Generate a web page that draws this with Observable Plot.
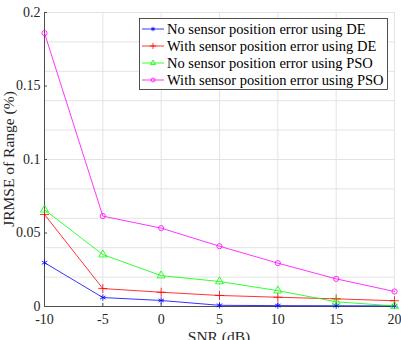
<!DOCTYPE html>
<html>
<head>
<meta charset="utf-8">
<script src="https://cdn.jsdelivr.net/npm/d3@7"></script>
<script src="https://cdn.jsdelivr.net/npm/@observablehq/plot@0.6"></script>
<style>
  html, body { margin: 0; padding: 0; background: #fff; }
  #chart { width: 401px; height: 340px; overflow: hidden; }
</style>
</head>
<body>
<div id="chart"></div>
<script>
// SNR levels (dB) and JRMSE of range (%) for each estimator
const snr = [-10, -5, 0, 5, 10, 15, 20];
const deNoError   = [0.0298, 0.0061, 0.0041, 0.0008, 0.0006, 0.0005, 0.0004];
const deWithError = [0.0626, 0.0122, 0.0097, 0.0075, 0.0063, 0.0052, 0.0039];
const psoNoError   = [0.0658, 0.0353, 0.0210, 0.0170, 0.0108, 0.0032, 0.0004];
const psoWithError = [0.1860, 0.0615, 0.0533, 0.0410, 0.0295, 0.0188, 0.0102];

const seriesNames = [
  "No sensor position error using DE",
  "With sensor position error using DE",
  "No sensor position error using PSO",
  "With sensor position error using PSO"
];
const seriesValues = [deNoError, deWithError, psoNoError, psoWithError];
const seriesColors = ["#0000ff", "#ff0000", "#00ff00", "#ff00ff"];
const seriesSymbols = ["asterisk", "plus", "triangle", "circle"];

const xTicks = [-10, -5, 0, 5, 10, 15, 20];
const xTickLabels = ["-10", "-5", "0", "5", "10", "15", "20"];
const yTicks = [0, 0.05, 0.1, 0.15, 0.2];
const yTickLabels = ["0", "0.05", "0.1", "0.15", "0.2"];
const yGrid = [0.02, 0.04, 0.06, 0.08, 0.1, 0.12, 0.14, 0.16, 0.18, 0.2];

const rows = seriesNames.flatMap((name, i) =>
  snr.map((s, j) => ({series: name, snr: s, value: seriesValues[i][j]}))
);

const font = "'Liberation Serif', 'Times New Roman', serif";
const axisColor = "#262626";

const marks = [
  Plot.gridX(xTicks.slice(1), {stroke: "#e3e3e3", strokeOpacity: 1}),
  Plot.gridY(yGrid, {stroke: "#e3e3e3", strokeOpacity: 1}),
  Plot.ruleX([-10], {stroke: "#4d4d4d"}),
  Plot.ruleY([0], {stroke: "#4d4d4d"}),
  Plot.axisX(xTicks, {tickSize: -3, text: null, stroke: "#4d4d4d", label: null}),
  Plot.axisX(xTicks, {tickSize: 0, tickPadding: 8, label: null, fontSize: 14, fill: axisColor,
    tickFormat: (d) => xTickLabels[xTicks.indexOf(d)]}),
  Plot.axisY(yTicks, {tickSize: -3, text: null, stroke: "#4d4d4d", label: null}),
  Plot.axisY(yTicks, {tickSize: 0, tickPadding: 4, label: null, fontSize: 14, fill: axisColor,
    tickFormat: (d) => yTickLabels[yTicks.indexOf(d)]})
];

seriesNames.forEach((name, i) => {
  const data = rows.filter(r => r.series === name);
  marks.push(Plot.line(data, {x: "snr", y: "value", stroke: seriesColors[i], strokeWidth: 0.8}));
  marks.push(Plot.dot(data, {x: "snr", y: "value", stroke: seriesColors[i], fill: "none",
    symbol: seriesSymbols[i], r: seriesSymbols[i] === "circle" ? 2.6 : 3, strokeWidth: 0.8}));
});

const chart = Plot.plot({
  width: 401,
  height: 340,
  marginLeft: 44,
  marginRight: 7,
  marginTop: 12,
  marginBottom: 34,
  x: {domain: [-10, 20]},
  y: {domain: [0, 0.2]},
  style: {fontFamily: font, fontSize: "14px", color: axisColor, background: "#fff"},
  marks
});

const svg = d3.select(chart);

// Axis titles
svg.append("text")
  .attr("x", 219).attr("y", 342)
  .attr("text-anchor", "middle")
  .attr("font-family", font).attr("font-size", 15.5)
  .attr("fill", axisColor)
  .text("SNR (dB)");
svg.append("text")
  .attr("transform", "translate(14,159) rotate(-90)")
  .attr("text-anchor", "middle")
  .attr("font-family", font).attr("font-size", 15.5)
  .attr("fill", axisColor)
  .text("JRMSE of Range (%)");

// Legend box
const lg = svg.append("g").attr("font-family", font).attr("font-size", 14.5).attr("text-anchor", "start");
lg.append("rect")
  .attr("x", 139.5).attr("y", 18.5).attr("width", 248).attr("height", 71)
  .attr("fill", "#fff").attr("stroke", "#262626").attr("stroke-width", 0.8);
const symbolPaths = {
  asterisk: d3.symbol(d3.symbolAsterisk, 14)(),
  plus: d3.symbol(d3.symbolPlus, 14)(),
  triangle: d3.symbol(d3.symbolTriangle, 12)(),
  circle: d3.symbol(d3.symbolCircle, 12)()
};
seriesNames.forEach((name, i) => {
  const y = 29 + i * 17;
  lg.append("line").attr("x1", 142).attr("x2", 164).attr("y1", y).attr("y2", y)
    .attr("stroke", seriesColors[i]).attr("stroke-width", 0.8);
  lg.append("path").attr("d", symbolPaths[seriesSymbols[i]])
    .attr("transform", `translate(153,${y})`)
    .attr("fill", "none").attr("stroke", seriesColors[i]).attr("stroke-width", 0.8);
  lg.append("text").attr("x", 167).attr("y", y + 5).attr("fill", "#000").text(name);
});

document.getElementById("chart").appendChild(chart);
</script>
</body>
</html>
